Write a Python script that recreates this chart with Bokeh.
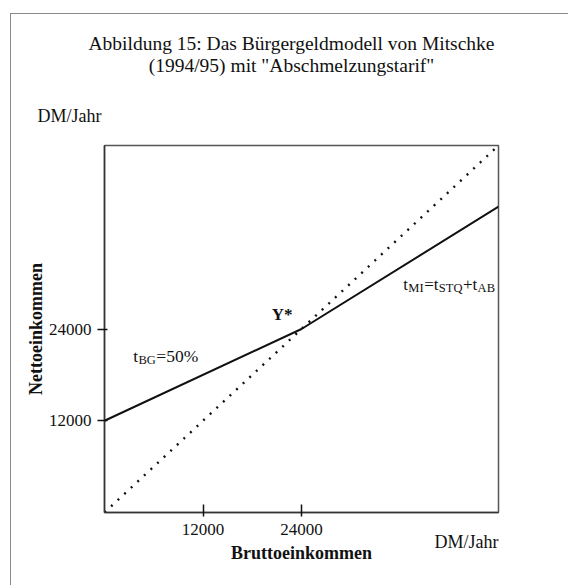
from bokeh.plotting import figure
from bokeh.layouts import column
from bokeh.models import Range1d, FixedTicker, Label
from bokeh.embed import file_html
from bokeh.resources import INLINE

# ---- data ----
brutto_net = [0, 24000, 48000]          # Bruttoeinkommen (DM/Jahr)
netto_net = [12000, 24000, 40000]       # Nettoeinkommen (tariff line)
diag_x = [0, 48000]                     # 45-degree line
diag_y = [0, 48000]
x_ticks = [12000, 24000]
y_ticks = [12000, 24000]
x_max = 48000
y_max = 48000
kink = (24000, 24000)                   # Y*

title_lines = ["Abbildung 15: Das Bürgergeldmodell von Mitschke",
               "(1994/95) mit \"Abschmelzungstarif\""]
unit_label = "DM/Jahr"
x_label = "Bruttoeinkommen"
y_label = "Nettoeinkommen"

FONT = "Liberation Serif"
INK = "#111111"

p = figure(width=557, height=571, output_backend="svg", toolbar_location=None,
           x_range=Range1d(0, x_max), y_range=Range1d(0, y_max),
           min_border_left=93, min_border_right=70, min_border_top=131,
           min_border_bottom=73, title=None)
p.background_fill_color = "white"
p.border_fill_color = "white"
p.grid.visible = False
p.outline_line_color = "#555555"
p.outline_line_width = 1.5

# axes
for ax in (p.xaxis[0], p.yaxis[0]):
    ax.axis_line_color = "#333333"
    ax.axis_line_width = 1.5
    ax.major_tick_line_color = INK
    ax.major_tick_line_width = 1.5
    ax.minor_tick_line_color = None
    ax.major_label_text_font = FONT
    ax.major_label_text_font_size = "17px"
    ax.major_label_text_color = INK
    ax.axis_label_text_font = FONT
    ax.axis_label_text_font_size = "18px"
    ax.axis_label_text_font_style = "bold"
    ax.axis_label_text_color = INK

p.xaxis.ticker = FixedTicker(ticks=x_ticks)
p.yaxis.ticker = FixedTicker(ticks=y_ticks)
p.xaxis.axis_label = x_label
p.yaxis.axis_label = y_label
p.xaxis.major_tick_in = 8
p.xaxis.major_tick_out = 4
p.xaxis.major_label_standoff = 7
p.xaxis.axis_label_standoff = 5
p.yaxis.major_tick_in = 3
p.yaxis.major_tick_out = 7
p.yaxis.major_label_standoff = 6
p.yaxis.axis_label_standoff = 0

# lines
p.line(diag_x, diag_y, line_color=INK, line_width=2.4, line_dash="2 7")
p.line(brutto_net, netto_net, line_color=INK, line_width=2)


def lab(x, y, text, size="17px", xo=0, yo=0, align="left", baseline="alphabetic",
        style="normal", place=None):
    l = Label(x=x, y=y, x_offset=xo, y_offset=yo, text=text,
              text_font=FONT, text_font_size=size, text_color=INK,
              text_align=align, text_baseline=baseline,
              text_font_style=style)
    if place:
        p.add_layout(l, place)
    else:
        p.add_layout(l)


# title
lab(x_max / 2, y_max, title_lines[0], size="19.5px", xo=-10, yo=102, align="center", baseline="middle", place="above")
lab(x_max / 2, y_max, title_lines[1], size="19.5px", xo=-10, yo=80, align="center", baseline="middle", place="above")

# unit labels
lab(0, y_max, unit_label, size="18px", xo=-67, yo=30, baseline="middle", place="above")
lab(x_max, 0, unit_label, size="18px", xo=0, yo=-29, align="right", baseline="middle", place="below")

# Y*
lab(kink[0], kink[1], "Y*", size="17px", xo=-9, yo=15, align="right", style="bold")

# rich text with subscripts
EM = {"t": .278, "B": .667, "G": .722, "=": .564, "5": .5, "0": .5, "%": .833,
      "M": .889, "I": .333, "S": .556, "T": .611, "Q": .722, "+": .564, "A": .722}


def rich(x, y, pieces, main=17, sub=12.5, drop=4):
    off = 0.0
    for txt, is_sub in pieces:
        size = sub if is_sub else main
        lab(x, y, txt, size=f"{size}px", xo=off, yo=-drop if is_sub else 0)
        off += sum(EM.get(c, .5) for c in txt) * size + (0.6 if is_sub else 0.3)


rich(3500, 20500, [("t", False), ("BG", True), ("=50%", False)], main=17.5)
rich(36400, 29850, [("t", False), ("MI", True), ("=t", False), ("STQ", True),
                    ("+t", False), ("AB", True)])

layout = column(p, styles={"border-top": "1px solid #8a8a8a",
                           "border-left": "1px solid #8a8a8a",
                           "margin-top": "13px", "margin-left": "10px"})

open("out.html", "w").write(file_html(layout, INLINE))
